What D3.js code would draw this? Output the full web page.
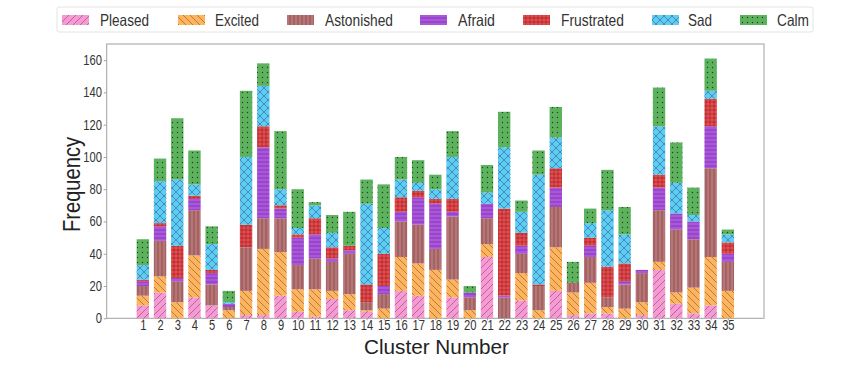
<!DOCTYPE html>
<html><head><meta charset="utf-8">
<script src="https://cdn.jsdelivr.net/npm/d3@7"></script>
<style>body{margin:0;background:#fff}svg{display:block}</style>
</head><body>
<svg id="c" width="850" height="365"></svg>
<script>
const clusters = d3.range(1, 36);
const emotions = ["Pleased","Excited","Astonished","Afraid","Frustrated","Sad","Calm"];
const pleased    = [8,16,0,13,8,0,2,2,14,4,1,12,5,4,0,17,14,0,13,0,38,0,11,0,17,2,3,3,0,2,30,9,3,8,0];
const excited    = [6,10,10,26,0,5,15,41,27,14,17,5,10,1,6,21,20,30,11,5,8,0,17,5,27,14,19,4,6,8,5,7,16,30,17];
const astonished = [6,22,13,28,13,2,27,19,21,15,19,18,25,5,9,22,24,13,39,8,16,13,12,15,25,6,16,6,15,18,32,39,30,55,18];
const afraid     = [3,9,2,7,7,2,0,44,6,17,15,2,2,0,5,6,17,28,3,3,9,1,5,0,12,0,7,0,2,2,14,10,11,26,5];
const frustrated = [1,2,20,2,2,0,14,13,2,2,10,7,3,11,20,9,4,3,8,0,0,54,8,1,12,0,5,19,11,0,8,0,0,17,7];
const sad        = [9,26,41,7,16,1,42,25,10,4,8,9,0,50,16,11,5,6,26,0,7,38,13,68,19,0,9,35,18,0,30,19,4,5,5];
const calm       = [16,14,38,21,11,7,41,14,36,24,2,11,21,15,27,14,14,9,16,4,17,22,7,15,19,13,9,25,17,0,24,25,17,20,3];
const yTicks = [0,20,40,60,80,100,120,140,160];

const series = [pleased, excited, astonished, afraid, frustrated, sad, calm];
const colors = ["#f79ad3","#fdb45c","#b97473","#ad55e2","#f04848","#5ccdf6","#5db35d"];

const svg = d3.select("#c");
const font = "'Liberation Sans', Arial, sans-serif";
const defs = svg.append("defs");
const hc = "rgba(40,20,40,0.5)";
function pat(id, size, draw){
  const p = defs.append("pattern").attr("id", id).attr("patternUnits","userSpaceOnUse")
    .attr("width", size).attr("height", size);
  draw(p, size);
}
const line = (p, x1,y1,x2,y2,w=0.7) => p.append("line").attr("x1",x1).attr("y1",y1).attr("x2",x2).attr("y2",y2)
  .attr("stroke", hc).attr("stroke-width", w);
const ids = [];
emotions.forEach((e,i)=>{
  const id = "p"+i; ids.push(id);
  const c = colors[i];
  const sz = [7,7,4,4,4,8,5][i];
  pat(id, sz, (p,s)=>{
    p.append("rect").attr("width",s).attr("height",s).attr("fill",c);
    if(i===0){ line(p,0,s,s,0); line(p,-1,1,1,-1); line(p,s-1,s+1,s+1,s-1); }
    if(i===1){ line(p,0,0,s,s); line(p,-1,s-1,1,s+1); line(p,s-1,-1,s+1,1); }
    if(i===2){ line(p,s/2,0,s/2,s); }
    if(i===3){ line(p,0,s/2,s,s/2); }
    if(i===4){ line(p,s/2,0,s/2,s); line(p,0,s/2,s,s/2); }
    if(i===5){ line(p,0,0,s,s); line(p,0,s,s,0); }
    if(i===6){ p.append("circle").attr("cx",s/2).attr("cy",s/2).attr("r",0.7).attr("fill","rgba(20,30,20,0.8)"); }
  });
});

const x = d3.scaleLinear().domain([-1.1, 37.1]).range([106.7, 764]);
const y = d3.scaleLinear().domain([0, 170]).range([318.3, 44]);
const bw = (x(1)-x(0))*0.72;

const rows = clusters.map((c,j)=>{ const o={cluster:c}; emotions.forEach((e,i)=>o[e]=series[i][j]); return o; });
const stack = d3.stack().keys(emotions)(rows);

svg.append("rect").attr("x",106.7).attr("y",44).attr("width",764-106.7).attr("height",318.3-44)
  .attr("fill","none").attr("stroke","#a0a0a0").attr("stroke-width",1);

stack.forEach((layer,i)=>{
  svg.append("g").selectAll("rect").data(layer).join("rect")
    .attr("x", d=>x(d.data.cluster)-bw/2).attr("width", bw)
    .attr("y", d=>y(d[1])).attr("height", d=>y(d[0])-y(d[1]))
    .attr("fill", `url(#${ids[i]})`);
});

const yAxis = d3.axisLeft(y).tickValues(yTicks).tickSize(3).tickPadding(3);
const gy = svg.append("g").attr("transform","translate(106.7,0)").call(yAxis);
const xAxis = d3.axisBottom(x).tickValues(clusters).tickSize(2).tickPadding(0).tickFormat(d3.format("d"));
const gx = svg.append("g").attr("transform","translate(0,318.3)").call(xAxis);
[gx,gy].forEach(g=>{
  g.select(".domain").remove();
  g.selectAll(".tick line").attr("stroke","#a0a0a0");
  g.selectAll("text").attr("fill","#333").style("font-family",font).style("font-size","14px")
    .attr("transform","scale(0.8,1)");
});

svg.append("text").attr("x",364).attr("y",354).attr("textLength",145).attr("lengthAdjust","spacingAndGlyphs")
  .style("font-family",font).style("font-size","21px").attr("fill","#222").text("Cluster Number");
svg.append("text").attr("transform","translate(80,232) rotate(-90)")
  .attr("textLength",95).attr("lengthAdjust","spacingAndGlyphs")
  .style("font-family",font).style("font-size","24px").attr("fill","#222").text("Frequency");

// legend
const lg = svg.append("g");
lg.append("rect").attr("x",57).attr("y",7).attr("width",756).attr("height",25).attr("rx",2)
  .attr("fill","#fff").attr("stroke","#e4e4e4");
const lx = [62,178,287,420,523,652,740];
const tx = [100,215,325,458,561,688,777];
const tw = [49,44,68,37,63,24,32];
emotions.forEach((e,i)=>{
  lg.append("rect").attr("x",lx[i]).attr("y",15).attr("width",27).attr("height",10).attr("fill",`url(#${ids[i]})`);
  lg.append("text").attr("x",tx[i]).attr("y",26).attr("textLength",tw[i]).attr("lengthAdjust","spacingAndGlyphs")
    .style("font-family",font).style("font-size","16.5px").attr("fill","#333").text(e);
});
</script>
</body></html>
